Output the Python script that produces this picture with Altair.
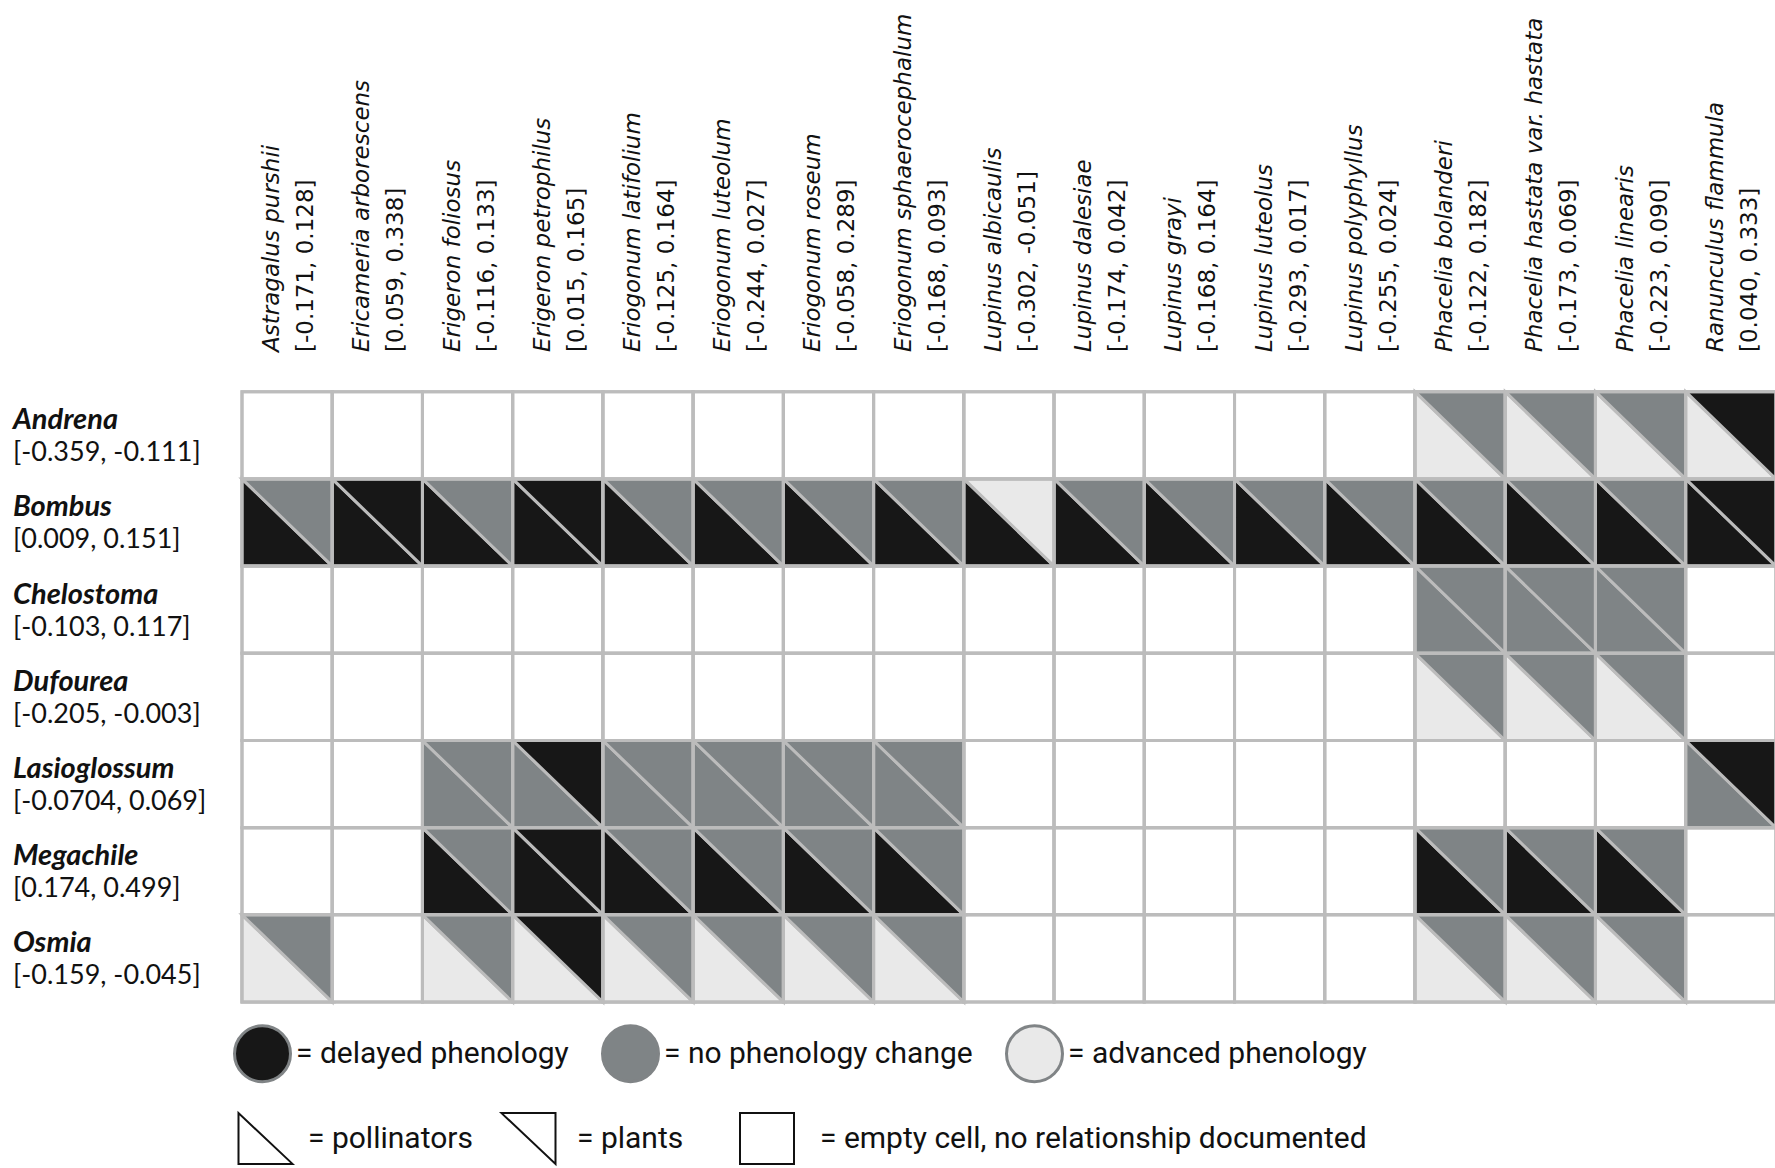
import altair as alt
import pandas as pd

# ---- data -------------------------------------------------------------
plants = [
    "Astragalus purshii", "Ericameria arborescens", "Erigeron foliosus",
    "Erigeron petrophilus", "Eriogonum latifolium", "Eriogonum luteolum",
    "Eriogonum roseum", "Eriogonum sphaerocephalum", "Lupinus albicaulis",
    "Lupinus dalesiae", "Lupinus grayi", "Lupinus luteolus",
    "Lupinus polyphyllus", "Phacelia bolanderi", "Phacelia hastata var. hastata",
    "Phacelia linearis", "Ranunculus flammula",
]
plant_ranges = [
    "[-0.171, 0.128]", "[0.059, 0.338]", "[-0.116, 0.133]", "[0.015, 0.165]",
    "[-0.125, 0.164]", "[-0.244, 0.027]", "[-0.058, 0.289]", "[-0.168, 0.093]",
    "[-0.302, -0.051]", "[-0.174, 0.042]", "[-0.168, 0.164]", "[-0.293, 0.017]",
    "[-0.255, 0.024]", "[-0.122, 0.182]", "[-0.173, 0.069]", "[-0.223, 0.090]",
    "[0.040, 0.333]",
]
pollinators = ["Andrena", "Bombus", "Chelostoma", "Dufourea",
               "Lasioglossum", "Megachile", "Osmia"]
pollinator_ranges = [
    "[-0.359, -0.111]", "[0.009, 0.151]", "[-0.103, 0.117]", "[-0.205, -0.003]",
    "[-0.0704, 0.069]", "[0.174, 0.499]", "[-0.159, -0.045]",
]

# Each code: first letter = pollinator response, second = plant response
# D = delayed, N = no change, A = advanced, "" = no relationship documented
andrena      = ["", "", "", "", "", "", "", "", "", "", "", "", "", "AN", "AN", "AN", "AD"]
bombus       = ["DN", "DD", "DN", "DD", "DN", "DN", "DN", "DN", "DA", "DN", "DN", "DN", "DN", "DN", "DN", "DN", "DD"]
chelostoma   = ["", "", "", "", "", "", "", "", "", "", "", "", "", "NN", "NN", "NN", ""]
dufourea     = ["", "", "", "", "", "", "", "", "", "", "", "", "", "AN", "AN", "AN", ""]
lasioglossum = ["", "", "NN", "ND", "NN", "NN", "NN", "NN", "", "", "", "", "", "", "", "", "ND"]
megachile    = ["", "", "DN", "DD", "DN", "DN", "DN", "DN", "", "", "", "", "", "DN", "DN", "DN", ""]
osmia        = ["AN", "", "AN", "AD", "AN", "AN", "AN", "AN", "", "", "", "", "", "AN", "AN", "AN", ""]
interactions = [andrena, bombus, chelostoma, dufourea, lasioglossum, megachile, osmia]

status_names = {"D": "delayed phenology", "N": "no phenology change", "A": "advanced phenology"}
status_order = ["delayed phenology", "no phenology change", "advanced phenology"]
status_colors = ["#171717", "#7f8486", "#e9e9e9"]

key_labels = ["= pollinators", "= plants", "= empty cell, no relationship documented"]

GRID = "#bcbcbc"
W, H = 1775, 1168

# ---- scales: one column / row per unit --------------------------------
col_w, row_h = 90.23, 87.19
left_px, top_px = 242.0, 391.7
xs = alt.Scale(domain=[-left_px / col_w, (W - left_px) / col_w], nice=False, zero=False)
ys = alt.Scale(domain=[-top_px / row_h, (H - top_px) / row_h], nice=False, zero=False, reverse=True)


def ux(px):
    """page x (px) -> column units"""
    return (px - left_px) / col_w


def uy(px):
    """page y (px) -> row units"""
    return (px - top_px) / row_h


# ---- tables built from the arrays ------------------------------------
cells = pd.DataFrame(
    [{"c0": c, "c1": c + 1, "r0": r, "r1": r + 1}
     for r in range(len(pollinators)) for c in range(len(plants))]
)

tri = []
for r, row in enumerate(interactions):
    for c, code in enumerate(row):
        if not code:
            continue
        pol, pla = status_names[code[0]], status_names[code[1]]
        # pollinator half: lower-left triangle
        tri.append({"tri": f"{r}-{c}-pol", "tx": c, "top": r, "bot": r + 1, "status": pol})
        tri.append({"tri": f"{r}-{c}-pol", "tx": c + 1, "top": r + 1, "bot": r + 1, "status": pol})
        # plant half: upper-right triangle
        tri.append({"tri": f"{r}-{c}-pla", "tx": c, "top": r, "bot": r, "status": pla})
        tri.append({"tri": f"{r}-{c}-pla", "tx": c + 1, "top": r, "bot": r + 1, "status": pla})
tri = pd.DataFrame(tri)

col_labels = pd.DataFrame({"plant": plants, "prange": plant_ranges,
                           "cpos": [i + 0.5 for i in range(len(plants))],
                           "cy": [uy(352.0)] * len(plants)})
row_labels = pd.DataFrame({"genus": pollinators, "grange": pollinator_ranges,
                           "rpos": [i + 0.5 for i in range(len(pollinators))],
                           "rx": [ux(13.0)] * len(pollinators)})

key_paths = ["M -1 -0.94 L -1 0.94 L 1 0.94 Z",
             "M -1 -0.94 L 1 -0.94 L 1 0.94 Z",
             "M -1 -0.94 L 1 -0.94 L 1 0.94 L -1 0.94 Z"]
key_df = pd.DataFrame({
    "label": key_labels,
    "path": key_paths,
    "icon_x": [ux(265.5), ux(528.5), ux(767.0)],
    "text_x": [ux(308.0), ux(577.0), ux(820.0)],
    "ky": [uy(1138.5)] * 3,
})

# ---- layers -------------------------------------------------------------
base_cells = alt.Chart(cells).encode(
    x=alt.X("c0:Q", scale=xs, axis=None), x2="c1:Q",
    y=alt.Y("r0:Q", scale=ys, axis=None), y2="r1:Q",
)
cell_fill = base_cells.mark_rect(fill="white", stroke=GRID, strokeWidth=3)
cell_lines = base_cells.mark_rect(fill="white", fillOpacity=0, stroke=GRID, strokeWidth=3)

triangles = alt.Chart(tri).mark_area(
    orient="vertical", stroke=GRID, strokeWidth=3, opacity=1, interpolate="linear"
).encode(
    x=alt.X("tx:Q", scale=xs, axis=None),
    y=alt.Y("top:Q", scale=ys, axis=None, stack=None),
    y2="bot:Q",
    detail="tri:N",
    fill=alt.Fill(
        "status:N",
        scale=alt.Scale(domain=status_order, range=status_colors),
        legend=alt.Legend(
            title=None, orient="none", direction="horizontal",
            legendX=233, legendY=1024,
            symbolType="circle", symbolSize=3136,
            symbolStrokeColor="#808486", symbolStrokeWidth=3, symbolOpacity=1,
            labelExpr="'= ' + datum.label", labelFont="Roboto",
            labelFontSize=30, labelColor="#111111", labelOffset=4,
            columnPadding=27, labelLimit=600,
        ),
    ),
)

# column headers (rotated, species name + range)
col_base = alt.Chart(col_labels).encode(
    x=alt.X("cpos:Q", scale=xs, axis=None),
    y=alt.Y("cy:Q", scale=ys, axis=None),
)
col_name = col_base.mark_text(
    angle=270, align="left", baseline="middle", font="DejaVu Sans",
    fontSize=23, fontStyle="italic", color="#111111", dy=-15,
).encode(text="plant:N")
col_range = col_base.mark_text(
    angle=270, align="left", baseline="middle", font="DejaVu Sans",
    fontSize=23, color="#111111", dy=19,
).encode(text="prange:N")

# row headers (genus + range)
row_base = alt.Chart(row_labels).encode(
    x=alt.X("rx:Q", scale=xs, axis=None),
    y=alt.Y("rpos:Q", scale=ys, axis=None),
)
row_name = row_base.mark_text(
    align="left", baseline="middle", font="Lato", fontSize=29,
    fontStyle="italic", fontWeight="bold", color="#111111", dy=-15,
).encode(text="genus:N")
row_range = row_base.mark_text(
    align="left", baseline="middle", font="Lato", fontSize=27,
    color="#111111", dy=18,
).encode(text="grange:N")

# key for triangle halves and empty cells
key_icons = alt.Chart(key_df).mark_point(
    filled=False, fill="white", fillOpacity=1, stroke="#111111",
    strokeWidth=2, opacity=1, size=2916,
).encode(
    x=alt.X("icon_x:Q", scale=xs, axis=None),
    y=alt.Y("ky:Q", scale=ys, axis=None),
    shape=alt.Shape("path:N", scale=alt.Scale(domain=key_paths, range=key_paths), legend=None),
)
key_text = alt.Chart(key_df).mark_text(
    align="left", baseline="middle", font="Roboto", fontSize=30, color="#111111",
).encode(
    x=alt.X("text_x:Q", scale=xs, axis=None),
    y=alt.Y("ky:Q", scale=ys, axis=None),
    text="label:N",
)

chart = alt.layer(
    cell_fill, triangles, cell_lines, col_name, col_range, row_name, row_range,
    key_icons, key_text,
).properties(
    width=W, height=H, padding=0, autosize=alt.AutoSizeParams(type="none"),
    background="white",
).configure_view(strokeWidth=0)

chart.save("out.html", embed_options={"renderer": "svg", "actions": False})
